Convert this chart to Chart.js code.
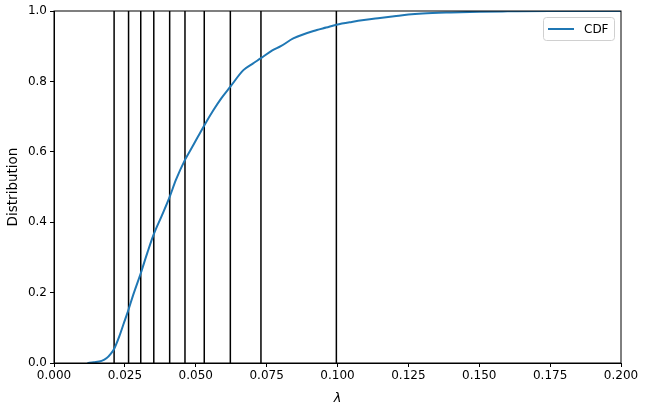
<!DOCTYPE html>
<html>
<head>
<meta charset="utf-8">
<script src="https://cdn.jsdelivr.net/npm/chart.js@4"></script>
<style>
    html, body { margin: 0; padding: 0; background: #fff; }
    #wrap { width: 645px; height: 411px; }
</style>
</head>
<body>
<div id="wrap"><canvas id="chart"></canvas></div>
<script>
// CDF curve
const cdfX = [0.0118, 0.014, 0.0168, 0.0186, 0.020, 0.0212, 0.023, 0.0245, 0.0263, 0.028,
    0.0306, 0.033, 0.0352, 0.038, 0.0408, 0.043, 0.0462, 0.049, 0.0530, 0.0562,
    0.059, 0.0622, 0.0668, 0.070, 0.0730, 0.077, 0.080, 0.0844, 0.0927, 0.096,
    0.0996, 0.105, 0.110, 0.115, 0.120, 0.125, 0.130, 0.140, 0.150, 0.160,
    0.175, 0.200];
const cdfY = [0, 0.002, 0.006, 0.014, 0.026, 0.04, 0.075, 0.11, 0.152, 0.195,
    0.255, 0.315, 0.366, 0.418, 0.472, 0.52, 0.577, 0.617, 0.675, 0.718,
    0.752, 0.785, 0.832, 0.85, 0.866, 0.888, 0.90, 0.922, 0.946, 0.953,
    0.961, 0.969, 0.975, 0.98, 0.985, 0.99, 0.993, 0.996, 0.998, 0.999,
    1.0, 1.0];

// vertical marker lines (lambda values)
const markers = [0.0212, 0.0263, 0.0306, 0.0352, 0.0408, 0.0462, 0.0530, 0.0622, 0.0730, 0.0996];

const xTicks = [0, 0.025, 0.05, 0.075, 0.1, 0.125, 0.15, 0.175, 0.2];
const yTicks = [0, 0.2, 0.4, 0.6, 0.8, 1.0];

const FONT = 'DejaVu Sans';

const datasets = [{
    label: 'CDF',
    data: cdfX.map((x, i) => ({ x: x, y: cdfY[i] })),
    borderColor: '#1f77b4',
    borderWidth: 2,
    pointRadius: 0,
    cubicInterpolationMode: 'monotone',
    order: 0
}];

markers.forEach(m => {
    datasets.push({
        label: '_marker',
        data: [{ x: m, y: 0 }, { x: m, y: 1 }],
        borderColor: '#000',
        borderWidth: 1.5,
        pointRadius: 0,
        order: 1
    });
});

// frame around plot + matplotlib-like legend
const framePlugin = {
    id: 'frame',
    afterDraw(chart) {
        const ctx = chart.ctx;
        const a = chart.chartArea;
        ctx.save();
        ctx.strokeStyle = '#000';
        ctx.lineWidth = 1;
        ctx.strokeRect(a.left, a.top, a.right - a.left, a.bottom - a.top);

        // legend box
        const bx = 543.5, by = 17.5, bw = 71, bh = 23;
        ctx.fillStyle = 'rgba(255,255,255,0.8)';
        ctx.strokeStyle = '#d0d0d0';
        ctx.beginPath();
        ctx.roundRect(bx, by, bw, bh, 3);
        ctx.fill();
        ctx.stroke();
        ctx.strokeStyle = '#1f77b4';
        ctx.lineWidth = 2;
        ctx.beginPath();
        ctx.moveTo(548, 29);
        ctx.lineTo(574, 29);
        ctx.stroke();
        ctx.fillStyle = '#000';
        ctx.font = '12px ' + FONT;
        ctx.textBaseline = 'middle';
        ctx.fillText('CDF', 584, 29.5);
        ctx.restore();
    }
};

new Chart(document.getElementById('chart'), {
    type: 'line',
    data: { datasets: datasets },
    options: {
        responsive: true,
        maintainAspectRatio: false,
        animation: false,
        layout: { padding: { left: 0, right: 24, top: 11, bottom: 0 } },
        plugins: {
            legend: { display: false },
            tooltip: { enabled: false }
        },
        scales: {
            x: {
                type: 'linear',
                min: 0,
                max: 0.2,
                afterFit: s => { s.height = 48; },
                afterBuildTicks: s => { s.ticks = xTicks.map(v => ({ value: v })); },
                ticks: {
                    color: '#000',
                    font: { family: FONT, size: 12 },
                    padding: 2,
                    maxRotation: 0,
                    callback: v => Number(v).toFixed(3)
                },
                grid: { drawOnChartArea: false, color: '#000', tickLength: 4 },
                border: { color: '#000' },
                title: {
                    display: true,
                    text: 'λ',
                    color: '#000',
                    font: { family: FONT, size: 13, style: 'italic' },
                    padding: { top: 2, bottom: 5 }
                }
            },
            y: {
                type: 'linear',
                min: 0,
                max: 1,
                afterFit: s => { s.width = 54; },
                afterBuildTicks: s => { s.ticks = yTicks.map(v => ({ value: v })); },
                ticks: {
                    color: '#000',
                    font: { family: FONT, size: 12 },
                    padding: 3,
                    callback: v => Number(v).toFixed(1)
                },
                grid: { drawOnChartArea: false, color: '#000', tickLength: 4 },
                border: { color: '#000' },
                title: {
                    display: true,
                    text: 'Distribution',
                    color: '#000',
                    font: { family: FONT, size: 13.5 },
                    padding: { top: 5, bottom: 0 }
                }
            }
        }
    },
    plugins: [framePlugin]
});
</script>
</body>
</html>
